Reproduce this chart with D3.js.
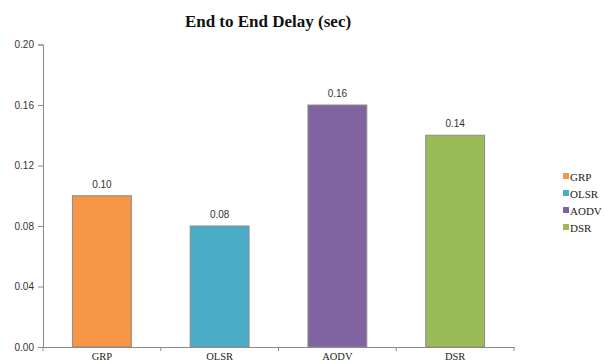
<!DOCTYPE html>
<html>
<head>
<meta charset="utf-8">
<script src="https://cdn.jsdelivr.net/npm/d3@7"></script>
<style>
  html, body { margin: 0; padding: 0; background: #fff; }
  svg { display: block; }
</style>
</head>
<body>
<svg id="chart" width="604" height="364"></svg>
<script>
// Routing protocols and their mean end-to-end delay (seconds)
const protocols = ["GRP", "OLSR", "AODV", "DSR"];
const delays = [0.10, 0.08, 0.16, 0.14];
const barColors = ["#F79646", "#4BACC6", "#8064A2", "#9BBB59"];
const yTicks = [0, 0.04, 0.08, 0.12, 0.16, 0.20];

const svg = d3.select("#chart");
const plot = { left: 43, right: 514, top: 44.5, bottom: 347 };
const axisColor = "#8a8a8a";
const serif = "'Liberation Serif', 'DejaVu Serif', serif";
const sans = "'Liberation Sans', 'DejaVu Sans', sans-serif";

const x = d3.scaleBand().domain(protocols).range([plot.left, plot.right]).padding(0);
const y = d3.scaleLinear().domain([0, 0.20]).range([plot.bottom, plot.top]);

// Title
svg.append("text")
  .attr("x", 268).attr("y", 27)
  .attr("text-anchor", "middle")
  .attr("font-family", serif)
  .attr("font-weight", "bold")
  .attr("font-size", 17)
  .attr("fill", "#111")
  .text("End to End Delay (sec)");

// Bars (half the band width, centred)
const barW = x.bandwidth() * 0.5;
svg.append("g").selectAll("rect")
  .data(protocols)
  .join("rect")
  .attr("x", (d) => x(d) + (x.bandwidth() - barW) / 2)
  .attr("y", (d, i) => y(delays[i]))
  .attr("width", barW)
  .attr("height", (d, i) => y(0) - y(delays[i]))
  .attr("fill", (d, i) => barColors[i])
  .attr("stroke", "#8c8c8c")
  .attr("stroke-width", 1);

// Value labels above bars
svg.append("g").selectAll("text")
  .data(protocols)
  .join("text")
  .attr("x", (d) => x(d) + x.bandwidth() / 2)
  .attr("y", (d, i) => y(delays[i]) - 8)
  .attr("text-anchor", "middle")
  .attr("font-family", sans)
  .attr("font-size", 10)
  .attr("fill", "#333")
  .text((d, i) => delays[i].toFixed(2));

// Y axis
const yAxis = svg.append("g")
  .attr("transform", `translate(${plot.left},0)`)
  .call(d3.axisLeft(y).tickValues(yTicks).tickFormat(d3.format(".2f")).tickSize(5).tickPadding(4));
yAxis.select(".domain").attr("stroke", axisColor);
yAxis.selectAll(".tick line").attr("stroke", axisColor);
yAxis.selectAll(".tick text")
  .attr("font-family", sans).attr("font-size", 10).attr("fill", "#333");

// X axis with ticks at category boundaries
const xAxis = svg.append("g")
  .attr("transform", `translate(0,${plot.bottom})`)
  .call(d3.axisBottom(x).tickSize(0).tickSizeOuter(0).tickPadding(6));
xAxis.select(".domain").attr("stroke", axisColor);
xAxis.selectAll(".tick text")
  .attr("font-family", serif).attr("font-size", 10.5).attr("fill", "#222");
const bounds = protocols.map((d) => x(d)).concat([plot.right]);
xAxis.append("g").selectAll("line")
  .data(bounds)
  .join("line")
  .attr("x1", (d) => d).attr("x2", (d) => d)
  .attr("y1", 0).attr("y2", 4)
  .attr("stroke", axisColor);

// Legend
const legend = svg.append("g").attr("transform", "translate(563,177)");
const rows = legend.selectAll("g")
  .data(protocols)
  .join("g")
  .attr("transform", (d, i) => `translate(0,${i * 17})`);
rows.append("rect")
  .attr("x", 0).attr("y", -4)
  .attr("width", 6).attr("height", 6)
  .attr("fill", (d, i) => barColors[i]);
rows.append("text")
  .attr("x", 7).attr("y", 3.5)
  .attr("font-family", serif)
  .attr("font-size", 11)
  .attr("fill", "#222")
  .text((d) => d);
</script>
</body>
</html>
